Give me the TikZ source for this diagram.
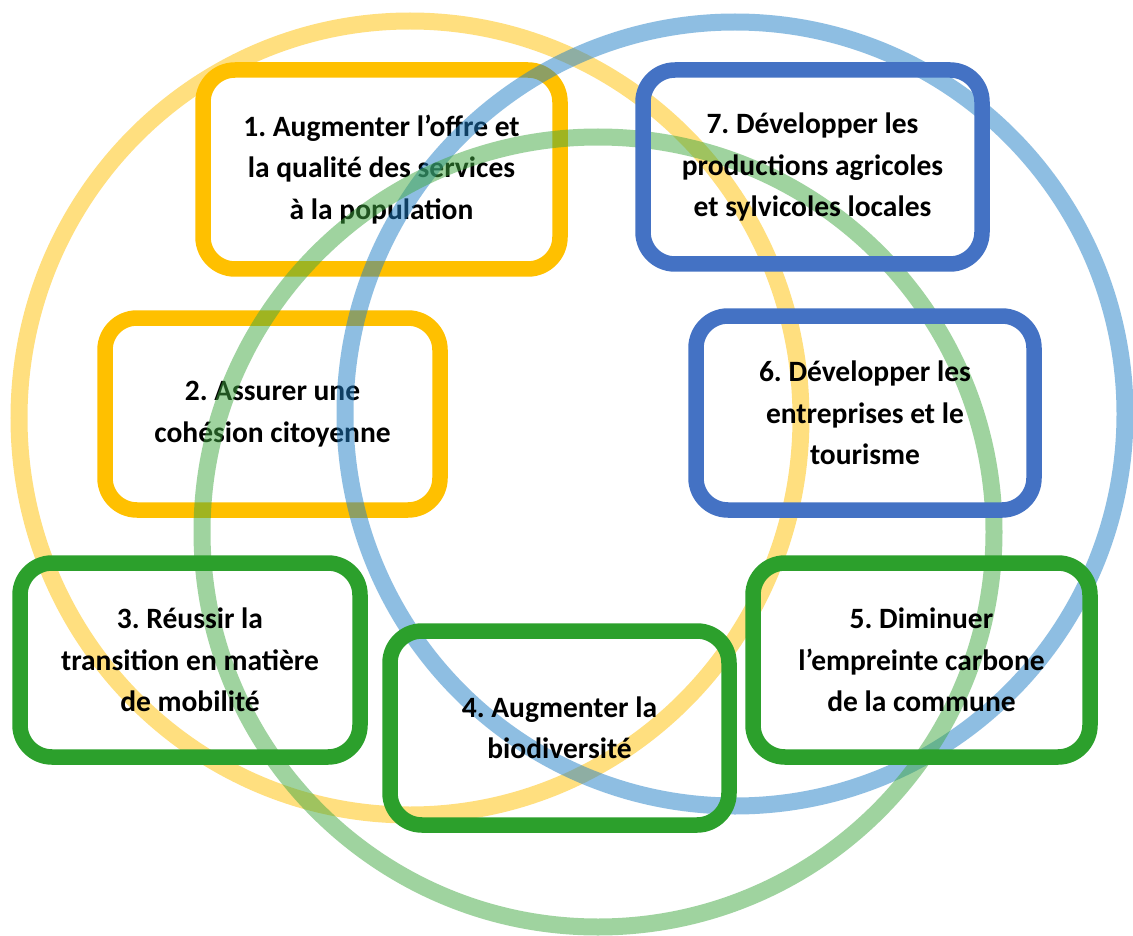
\documentclass[tikz,border=0pt]{standalone}
\usepackage{fontspec}
\setmainfont{Carlito}
\frenchspacing
\definecolor{cyellow}{HTML}{FFC000}
\definecolor{cblue}{HTML}{4472C4}
\definecolor{cgreen}{HTML}{2CA02C}
\definecolor{ryellow}{HTML}{FFC000}
\definecolor{rblue}{HTML}{1F7FC7}
\definecolor{rgreen}{HTML}{41A941}
\begin{document}
\begin{tikzpicture}[x=1pt,y=-1pt,
  box/.style={draw=#1, line width=15.5pt, rounded corners=32pt, align=center,
    inner sep=0pt, font=\fontsize{29.5}{41.5}\selectfont\bfseries},
  ring/.style={draw=#1, line width=17pt, draw opacity=0.5}]
\useasboundingbox[fill=white] (0,0) rectangle (1133,936);
% yellow boxes (below the rings)
\node[box=cyellow, minimum width=357pt, minimum height=199pt] (b1) at (381.5,169.5)
  {1. Augmenter l’offre et\\la qualité des services\\à la population};
\node[box=cyellow, minimum width=335pt, minimum height=192pt] (b2) at (272.5,414)
  {2. Assurer une\\cohésion citoyenne};
% rings
\draw[ring=ryellow] (410,418) ellipse [x radius=391pt, y radius=397pt];
\draw[ring=rblue] (735,414) ellipse [x radius=390pt, y radius=392pt];
\draw[ring=rgreen] (598,532) ellipse [x radius=396pt, y radius=395pt];
% green and blue boxes (above the rings)
\node[box=cgreen, minimum width=340pt, minimum height=194pt] (b3) at (190,660)
  {3. Réussir la\\transition en matière\\de mobilité};
\node[box=cgreen, minimum width=339pt, minimum height=194pt] (b4) at (559.5,728)
  {4. Augmenter la\\biodiversité};
\node[box=cgreen, minimum width=337pt, minimum height=194pt] (b5) at (921.5,660)
  {5. Diminuer\\l’empreinte carbone\\de la commune};
\node[box=cblue, minimum width=338pt, minimum height=194pt] (b6) at (865,413)
  {6. Développer les\\entreprises et le\\tourisme};
\node[box=cblue, minimum width=339pt, minimum height=194pt] (b7) at (812.5,167)
  {7. Développer les\\productions agricoles\\et sylvicoles locales};
\end{tikzpicture}
\end{document}
